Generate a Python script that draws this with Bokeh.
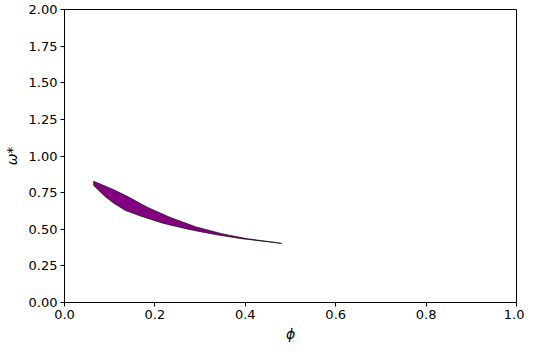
from bokeh.plotting import figure
from bokeh.models import FixedTicker, PrintfTickFormatter, Range1d
from bokeh.embed import file_html
from bokeh.resources import INLINE

# Upper boundary of the region
phi_upper = [0.0645, 0.104, 0.140, 0.183, 0.233, 0.290, 0.348, 0.405, 0.480]
omega_upper = [0.828, 0.777, 0.723, 0.651, 0.582, 0.517, 0.470, 0.435, 0.405]
# Lower boundary of the region
phi_lower = [0.0645, 0.0896, 0.110, 0.135, 0.168, 0.219, 0.276, 0.333, 0.391, 0.480]
omega_lower = [0.799, 0.723, 0.675, 0.628, 0.590, 0.540, 0.498, 0.464, 0.436, 0.403]

x_ticks = [0.0, 0.2, 0.4, 0.6, 0.8, 1.0]
y_ticks = [0.0, 0.25, 0.5, 0.75, 1.0, 1.25, 1.5, 1.75, 2.0]

p = figure(width=524, height=344, output_backend="svg", toolbar_location=None,
           x_range=Range1d(0, 1), y_range=Range1d(0, 2),
           min_border_left=57, min_border_right=8, min_border_top=9, min_border_bottom=38)

xs = phi_upper + phi_lower[::-1]
ys = omega_upper + omega_lower[::-1]
p.patch(xs, ys, fill_color="#800080", line_color="black", line_width=0.6)

p.xgrid.visible = False
p.ygrid.visible = False
p.outline_line_color = "black"
p.outline_line_width = 1

for ax in (p.xaxis[0], p.yaxis[0]):
    ax.minor_tick_line_color = None
    ax.major_tick_out = 4
    ax.major_tick_in = 0
    ax.major_label_text_font = "DejaVu Sans"
    ax.major_label_text_font_size = "13px"
    ax.major_label_text_color = "black"
    ax.axis_line_color = "black"
    ax.major_tick_line_color = "black"
    ax.axis_label_text_font = "DejaVu Sans"
    ax.axis_label_text_font_size = "14px"
    ax.axis_label_text_font_style = "italic"
    ax.axis_label_text_color = "black"

p.xaxis.ticker = FixedTicker(ticks=x_ticks)
p.yaxis.ticker = FixedTicker(ticks=y_ticks)
p.xaxis.formatter = PrintfTickFormatter(format="%.1f")
p.yaxis.formatter = PrintfTickFormatter(format="%.2f")
p.xaxis.axis_label = "ϕ"
p.yaxis.axis_label = "ω*"
p.xaxis.axis_label_standoff = 4
p.yaxis.axis_label_standoff = 6
p.xaxis.major_label_standoff = 3
p.yaxis.major_label_standoff = 3

open("out.html", "w").write(file_html(p, INLINE))
